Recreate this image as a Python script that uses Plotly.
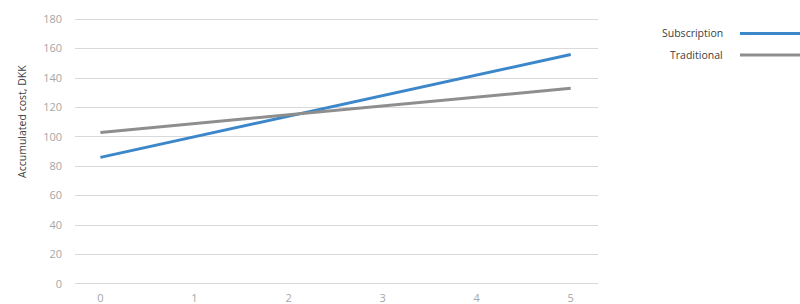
import plotly.graph_objects as go

years = [0, 1, 2, 3, 4, 5]
subscription = [86, 100, 114, 128, 142, 156]
traditional = [103, 109, 115, 121, 127, 133]
y_ticks = [0, 20, 40, 60, 80, 100, 120, 140, 160, 180]
series_names = ["Subscription", "Traditional"]
series_colors = ["#3c87c9", "#8e8e8e"]

fig = go.Figure()
for name, vals, col in zip(series_names, [subscription, traditional], series_colors):
    fig.add_trace(go.Scatter(x=years, y=vals, mode="lines", name=name,
                             line=dict(color=col, width=3), showlegend=False))

font_family = "Open Sans, Noto Sans, sans-serif"
fig.update_layout(
    width=800, height=304,
    margin=dict(l=75, r=202, t=17, b=18),
    paper_bgcolor="white", plot_bgcolor="white",
    font=dict(family=font_family, size=11, color="#a6a6a6"),
    xaxis=dict(range=[-0.27, 5.29], tickvals=years, showgrid=False, zeroline=False,
               showline=False, ticks="", automargin=False, ticklabelstandoff=4,
               tickfont=dict(size=11, color="#a6a6a6")),
    yaxis=dict(range=[-1.5, 181.5], tickvals=y_ticks, showgrid=True, gridcolor="#d9d9d9",
               gridwidth=1, zeroline=True, zerolinecolor="#d9d9d9", zerolinewidth=1,
               automargin=False, showline=False, ticks="", ticklabelstandoff=12,
               tickfont=dict(size=11, color="#a6a6a6")),
)

# axis title
fig.add_annotation(text="Accumulated cost, DKK", xref="paper", yref="paper",
                   x=-0.1013, y=0.610, textangle=-90, showarrow=False,
                   xanchor="center", yanchor="middle",
                   font=dict(family=font_family, size=10.5, color="#404040"))

# manual legend (text left of line)
leg_y = [0.939, 0.859]
for name, col, ly in zip(series_names, series_colors, leg_y):
    fig.add_annotation(text=name, xref="paper", yref="paper", x=1.2428, y=ly,
                       xanchor="right", yanchor="middle", showarrow=False,
                       font=dict(family=font_family, size=10.5, color="#404040"))
    fig.add_shape(type="line", xref="paper", yref="paper", x0=1.2715, x1=1.39,
                  y0=ly, y1=ly, line=dict(color=col, width=3))

fig.write_html("out.html")
